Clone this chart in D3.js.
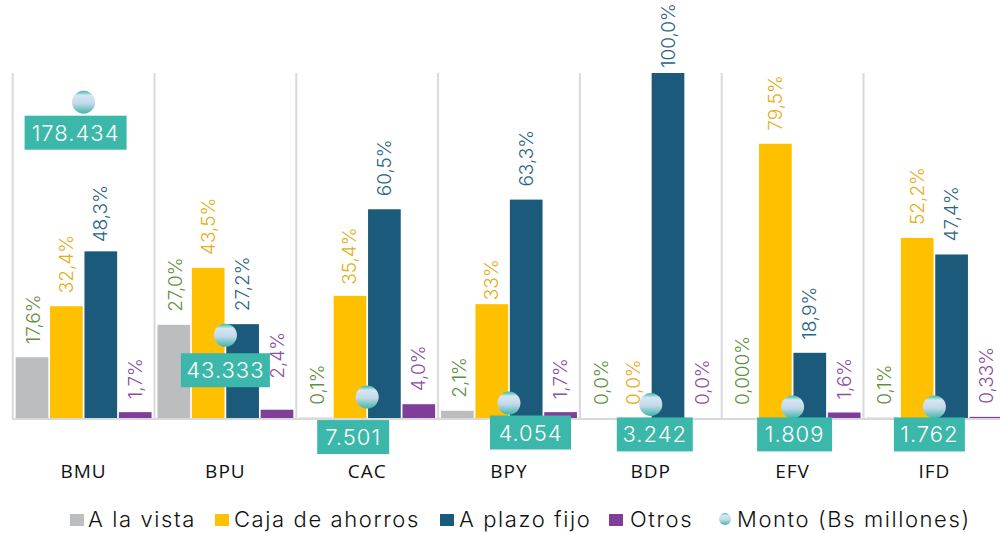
<!DOCTYPE html>
<html><head><meta charset="utf-8">
<script src="https://cdn.jsdelivr.net/npm/d3@7/dist/d3.min.js"></script>
<style>html,body{margin:0;background:#fff}svg{display:block}</style></head>
<body><svg id="c" width="1000" height="533"></svg>
<script>
const categories=["BMU","BPU","CAC","BPY","BDP","EFV","IFD"];
const seriesNames=["A la vista","Caja de ahorros","A plazo fijo","Otros"];
const aLaVista=[17.6,27.0,0.1,2.1,0,0,0.1];
const cajaAhorros=[32.4,43.5,35.4,33,0,79.5,52.2];
const plazoFijo=[48.3,27.2,60.5,63.3,100,18.9,47.4];
const otros=[1.7,2.4,4.0,1.7,0,1.6,0.33];
const aLaVistaLabels=["17,6%","27,0%","0,1%","2,1%","0,0%","0,000%","0,1%"];
const cajaLabels=["32,4%","43,5%","35,4%","33%","0,0%","79,5%","52,2%"];
const plazoLabels=["48,3%","27,2%","60,5%","63,3%","100,0%","18,9%","47,4%"];
const otrosLabels=["1,7%","2,4%","4,0%","1,7%","0,0%","1,6%","0,33%"];
const monto=[178434,43333,7501,4054,3242,1809,1762];
const montoLabels=["178.434","43.333","7.501","4.054","3.242","1.809","1.762"];
const legendNames=[...seriesNames,"Monto (Bs millones)"];
// layout only
const colors=["#bcbdbf","#ffc000","#1b5a7a","#7f3f98"];
const labelColors=["#5f8f3e","#e3ad17","#2a6485","#8a4ea3"];
const boxOffset=[[-8,30.5],[0,35],[-14,40],[21.5,29.5],[4,30],[2,27.5],[-5,27.5]];
const boxWidth=[102,89,72,81,76,75,71];
const gapDefault=13;
const gapOverride={"2-0":9,"3-1":31,"1-3":4,"2-4":5,"1-2":11};
const seriesDx=[8.5,6.5,6.5,6.5];
const FONT="Inter, 'DejaVu Sans', sans-serif";

const svg=d3.select("#c");
const defs=svg.append("defs");
const g=defs.append("linearGradient").attr("id","dot").attr("x1",0).attr("y1",0).attr("x2",0).attr("y2",1);
[[0,"#3cb8ab"],[0.1,"#7fcfc6"],[0.2,"#d5e6f3"],[0.55,"#c3d9ea"],[0.8,"#7cc5c4"],[1,"#3cb8ab"]].forEach(s=>g.append("stop").attr("offset",s[0]).attr("stop-color",s[1]));

const x0=d3.scaleBand().domain(categories).range([12.7,1005.3]);
const x1=d3.scaleBand().domain(d3.range(4)).range([0,x0.bandwidth()]).paddingInner(0.05).paddingOuter(0.086);
const y=d3.scaleLinear().domain([0,100]).range([418,73]);
const y2=d3.scaleLinear().domain([0,200000]).range([410,65]);

categories.forEach(c=>svg.append("line").attr("x1",x0(c)).attr("x2",x0(c)).attr("y1",73).attr("y2",419).attr("stroke","#d9d9d9").attr("stroke-width",2));

const values=[aLaVista,cajaAhorros,plazoFijo,otros];
const labels=[aLaVistaLabels,cajaLabels,plazoLabels,otrosLabels];
svg.append("line").attr("x1",12).attr("x2",1000).attr("y1",419).attr("y2",419).attr("stroke","#d9d9d9").attr("stroke-width",2);
values.forEach((vals,s)=>{
  svg.append("g").selectAll("rect").data(vals).join("rect")
    .attr("x",(d,i)=>x0(categories[i])+x1(s)).attr("width",x1.bandwidth())
    .attr("y",d=>y(d)).attr("height",d=>y(0)-y(d)).attr("fill",colors[s]);
});
values.forEach((vals,s)=>{
  svg.append("g").selectAll("text").data(vals).join("text")
    .attr("transform",(d,i)=>{
      const gap=gapOverride[s+"-"+i]??gapDefault;
      return `translate(${x0(categories[i])+x1(s)+x1.bandwidth()/2+seriesDx[s]},${y(d)-gap}) rotate(-90)`;})
    .attr("text-anchor","start").attr("font-family",FONT).attr("font-size",19).attr("font-weight",300)
    .attr("letter-spacing",0).attr("fill",labelColors[s]).text((d,i)=>labels[s][i]);
});
// monto markers
const cx=c=>x0(c)+x0.bandwidth()/2;
monto.forEach((v,i)=>{
  const c=categories[i],px=cx(c),py=y2(v);
  svg.append("circle").attr("cx",px).attr("cy",py).attr("r",11.5).attr("fill","url(#dot)");
  const [dx,dy]=boxOffset[i];
  const lx=px+dx,ly=py+dy;
  svg.append("rect").attr("x",lx-boxWidth[i]/2).attr("y",ly-17).attr("width",boxWidth[i]).attr("height",34).attr("fill","#3cb8ab");
  svg.append("text").attr("x",lx).attr("y",ly).attr("text-anchor","middle").attr("dominant-baseline","central")
    .attr("font-family",FONT).attr("font-size",22).attr("font-weight",300).attr("letter-spacing",1).attr("fill","#fff").text(montoLabels[i]);
});
// category labels
svg.append("g").selectAll("text").data(categories).join("text")
  .attr("x",c=>cx(c)).attr("y",478).attr("text-anchor","middle")
  .attr("font-family","'Open Sans',sans-serif").attr("font-size",19).attr("font-weight",500).attr("letter-spacing",1).attr("fill","#111").text(d=>d);
// legend
const legX=[70,215,440,609,719],txtX=[88,234,459,630,737];
legendNames.forEach((n,i)=>{
  if(i<4) svg.append("rect").attr("x",legX[i]).attr("y",514).attr("width",14).attr("height",12).attr("fill",colors[i]);
  else svg.append("circle").attr("cx",legX[i]+6).attr("cy",519).attr("r",6).attr("fill","url(#dot)");
  svg.append("text").attr("x",txtX[i]).attr("y",527).attr("font-family",FONT).attr("font-size",22).attr("font-weight",300).attr("letter-spacing",1.6).attr("fill","#111").text(n);
});
</script></body></html>
